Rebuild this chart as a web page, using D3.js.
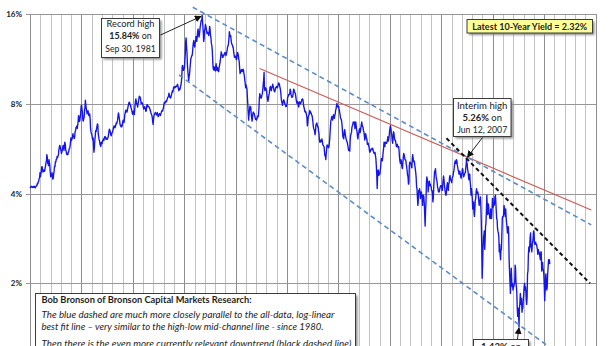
<!DOCTYPE html>
<html>
<head>
<meta charset="utf-8">
<script src="https://cdn.jsdelivr.net/npm/d3@7"></script>
<style>
  html, body { margin: 0; padding: 0; background: #fff; }
  svg { display: block; font-family: Lato, "Open Sans", sans-serif; }
</style>
</head>
<body>
<svg id="chart" width="616" height="346"></svg>
<script>
// 10-year Treasury yield (%), two readings per month (early, late), from Jan 1965
const firstYear = 1965;
const yieldPct = [
  /* 1965 */ 4.17,4.21, 4.20,4.23, 4.22,4.20, 4.19,4.22, 4.20,4.23, 4.22,4.19, 4.18,4.22, 4.23,4.27, 4.26,4.33, 4.32,4.38, 4.40,4.50, 4.52,4.70,
  /* 1966 */ 4.56,4.66, 4.75,4.92, 4.92,4.80, 4.72,4.78, 4.80,4.75, 4.76,4.88, 4.95,5.08, 5.15,5.40, 5.30,5.05, 5.04,4.96, 5.20,5.08, 4.95,4.70,
  /* 1967 */ 4.55,4.60, 4.58,4.70, 4.60,4.47, 4.50,4.66, 4.75,4.95, 4.92,5.12, 5.10,5.22, 5.22,5.33, 5.28,5.34, 5.40,5.58, 5.70,5.80, 5.76,5.65,
  /* 1968 */ 5.58,5.45, 5.52,5.60, 5.70,5.80, 5.68,5.58, 5.82,5.95, 5.85,5.60, 5.55,5.43, 5.40,5.45, 5.40,5.52, 5.52,5.65, 5.66,5.76, 5.90,6.15,
  /* 1969 */ 6.02,6.06, 6.12,6.26, 6.35,6.24, 6.18,6.12, 6.20,6.45, 6.50,6.66, 6.70,6.74, 6.62,6.78, 7.00,7.30, 7.20,6.98, 7.05,7.25, 7.50,7.85,
  /* 1970 */ 7.92,7.70, 7.45,7.05, 7.00,7.12, 7.20,7.60, 7.80,8.22, 7.95,7.70, 7.55,7.40, 7.50,7.58, 7.45,7.30, 7.30,7.40, 7.10,6.60, 6.45,6.35,
  /* 1971 */ 6.30,6.15, 6.05,6.15, 5.75,5.50, 5.70,6.00, 6.25,6.50, 6.45,6.60, 6.70,6.85, 6.80,6.35, 6.20,6.05, 6.00,5.85, 5.80,5.75, 5.95,5.92,
  /* 1972 */ 5.88,6.00, 6.05,6.10, 6.02,6.12, 6.20,6.22, 6.15,6.08, 6.10,6.14, 6.08,6.14, 6.18,6.30, 6.50,6.58, 6.52,6.44, 6.30,6.25, 6.32,6.40,
  /* 1973 */ 6.42,6.50, 6.60,6.68, 6.75,6.68, 6.65,6.70, 6.80,6.90, 6.86,6.95, 7.05,7.25, 7.45,7.35, 7.15,6.98, 6.80,6.75, 6.70,6.78, 6.70,6.80,
  /* 1974 */ 6.95,7.05, 6.98,6.92, 7.10,7.35, 7.45,7.60, 7.62,7.52, 7.50,7.60, 7.75,7.88, 8.00,8.10, 8.08,7.95, 7.95,7.80, 7.72,7.62, 7.50,7.38,
  /* 1975 */ 7.45,7.55, 7.40,7.35, 7.60,7.90, 8.20,8.30, 8.10,7.98, 7.90,7.80, 8.00,8.15, 8.35,8.48, 8.45,8.40, 8.25,8.00, 8.05,8.08, 8.02,7.95,
  /* 1976 */ 7.80,7.68, 7.75,7.82, 7.78,7.68, 7.55,7.58, 7.85,7.95, 7.90,7.82, 7.85,7.80, 7.80,7.72, 7.62,7.55, 7.45,7.38, 7.32,7.20, 6.95,6.82,
  /* 1977 */ 7.10,7.30, 7.36,7.42, 7.48,7.44, 7.38,7.34, 7.44,7.48, 7.32,7.24, 7.30,7.36, 7.42,7.38, 7.30,7.40, 7.48,7.56, 7.60,7.56, 7.65,7.75,
  /* 1978 */ 7.92,8.08, 8.02,8.06, 8.12,8.18, 8.12,8.20, 8.30,8.40, 8.42,8.50, 8.68,8.58, 8.42,8.36, 8.38,8.48, 8.58,8.72, 8.85,8.76, 8.92,9.10,
  /* 1979 */ 9.12,9.05, 9.05,9.15, 9.10,9.16, 9.15,9.22, 9.30,9.18, 9.00,8.85, 8.90,9.02, 8.95,9.12, 9.25,9.45, 9.90,10.70, 10.75,10.45, 10.35,10.45,
  /* 1980 */ 10.55,11.10, 11.80,12.90, 13.30,12.50, 11.90,10.90, 10.30,9.95, 9.55,9.85, 10.05,10.45, 10.90,11.30, 11.45,11.60, 11.60,11.90, 12.50,12.85, 13.05,12.60,
  /* 1981 */ 12.40,12.75, 12.95,13.45, 13.25,12.95, 13.40,13.95, 14.25,13.85, 13.40,13.55, 14.05,14.50, 14.80,15.20, 15.20,15.45, 15.40,14.70, 13.90,12.95, 13.20,14.05,
  /* 1982 */ 14.30,14.75, 14.60,14.30, 14.00,13.75, 13.90,13.80, 13.70,13.55, 14.05,14.55, 14.20,13.60, 13.30,12.75, 12.55,12.15, 11.30,10.60, 10.40,10.65, 10.60,10.40,
  /* 1983 */ 10.30,10.60, 10.90,10.55, 10.35,10.60, 10.45,10.30, 10.25,10.55, 10.75,10.95, 11.20,11.55, 11.95,11.75, 11.70,11.45, 11.45,11.62, 11.60,11.75, 11.80,11.90,
  /* 1984 */ 11.75,11.60, 11.75,11.95, 12.15,12.45, 12.50,12.75, 13.20,13.95, 13.70,13.45, 13.55,13.15, 12.80,12.65, 12.60,12.40, 12.35,11.95, 11.70,11.45, 11.55,11.45,
  /* 1985 */ 11.55,11.25, 11.30,11.70, 11.90,11.80, 11.60,11.25, 11.10,10.55, 10.10,10.20, 10.25,10.40, 10.40,10.25, 10.30,10.45, 10.35,10.10, 9.90,9.60, 9.35,9.05,
  /* 1986 */ 9.25,9.10, 8.95,8.45, 8.00,7.50, 7.05,7.35, 7.60,7.85, 7.75,7.80, 7.40,7.20, 7.00,7.20, 7.45,7.50, 7.45,7.40, 7.30,7.20, 7.10,7.15,
  /* 1987 */ 7.05,7.10, 7.20,7.28, 7.22,7.30, 7.70,8.30, 8.65,8.55, 8.45,8.35, 8.40,8.55, 8.65,8.90, 9.30,9.60, 10.20,9.00, 8.85,8.90, 9.05,8.95,
  /* 1988 */ 8.85,8.45, 8.30,8.15, 8.30,8.50, 8.65,8.85, 9.10,9.15, 9.00,8.85, 9.05,9.10, 9.30,9.20, 9.05,8.90, 8.80,8.78, 8.92,9.05, 9.10,9.15,
  /* 1989 */ 9.10,9.05, 9.15,9.30, 9.40,9.35, 9.25,9.10, 8.95,8.75, 8.35,8.15, 8.05,7.90, 8.05,8.20, 8.25,8.15, 8.05,7.95, 7.90,7.82, 7.85,7.90,
  /* 1990 */ 8.10,8.40, 8.45,8.55, 8.60,8.58, 8.70,8.95, 8.85,8.60, 8.50,8.40, 8.45,8.45, 8.70,8.95, 8.90,8.80, 8.70,8.68, 8.45,8.25, 8.10,8.02,
  /* 1991 */ 8.15,8.05, 7.85,7.80, 8.10,8.12, 8.02,8.00, 8.05,8.12, 8.25,8.30, 8.30,8.22, 7.95,7.80, 7.70,7.55, 7.50,7.55, 7.45,7.35, 7.20,6.75,
  /* 1992 */ 6.90,7.20, 7.30,7.35, 7.50,7.60, 7.45,7.50, 7.40,7.35, 7.30,7.15, 6.95,6.72, 6.60,6.55, 6.45,6.30, 6.45,6.80, 6.85,6.90, 6.80,6.70,
  /* 1993 */ 6.70,6.50, 6.35,6.05, 5.95,6.05, 5.95,5.98, 6.02,6.10, 6.00,5.85, 5.80,5.78, 5.75,5.55, 5.35,5.40, 5.20,5.42, 5.65,5.82, 5.75,5.80,
  /* 1994 */ 5.70,5.70, 5.85,6.05, 6.35,6.70, 7.05,7.10, 7.25,7.15, 7.05,7.20, 7.35,7.25, 7.15,7.30, 7.40,7.60, 7.70,7.85, 8.02,7.90, 7.80,7.85,
  /* 1995 */ 7.85,7.70, 7.55,7.40, 7.25,7.15, 7.10,7.02, 6.80,6.50, 6.20,6.15, 6.10,6.40, 6.55,6.45, 6.25,6.15, 6.05,6.00, 5.95,5.85, 5.75,5.60,
  /* 1996 */ 5.58,5.65, 5.55,6.05, 6.25,6.35, 6.40,6.65, 6.75,6.80, 6.95,6.90, 6.85,6.95, 6.60,6.75, 6.95,6.75, 6.55,6.45, 6.20,6.10, 6.30,6.40,
  /* 1997 */ 6.55,6.60, 6.40,6.50, 6.65,6.80, 6.95,6.80, 6.70,6.68, 6.50,6.45, 6.25,6.05, 6.30,6.35, 6.25,6.10, 6.10,5.85, 5.85,5.90, 5.78,5.75,
  /* 1998 */ 5.55,5.50, 5.55,5.60, 5.65,5.62, 5.62,5.68, 5.65,5.55, 5.50,5.45, 5.45,5.50, 5.35,5.25, 4.95,4.65, 4.16,4.60, 4.80,4.78, 4.60,4.68,
  /* 1999 */ 4.65,4.75, 4.90,5.15, 5.25,5.20, 5.15,5.30, 5.50,5.65, 5.95,5.90, 5.75,5.95, 5.95,5.90, 5.90,5.95, 6.05,6.20, 6.00,6.10, 6.25,6.45,
  /* 2000 */ 6.65,6.75, 6.60,6.40, 6.30,6.05, 5.90,6.10, 6.45,6.40, 6.20,6.05, 6.05,6.00, 5.85,5.75, 5.80,5.85, 5.75,5.70, 5.75,5.60, 5.30,5.15,
  /* 2001 */ 5.05,5.20, 5.15,5.00, 4.90,4.85, 5.10,5.30, 5.45,5.40, 5.30,5.20, 5.20,5.15, 5.00,4.90, 4.75,4.60, 4.55,4.30, 4.35,4.95, 5.10,5.10,
  /* 2002 */ 5.05,5.05, 4.90,4.88, 5.25,5.40, 5.25,5.12, 5.15,5.10, 4.95,4.85, 4.70,4.55, 4.20,4.15, 3.85,3.65, 3.80,4.10, 4.05,4.15, 4.05,3.85,
  /* 2003 */ 3.95,4.05, 3.95,3.85, 3.65,3.95, 3.95,3.90, 3.70,3.40, 3.11,3.50, 3.75,4.35, 4.55,4.45, 4.40,4.05, 4.25,4.35, 4.40,4.25, 4.30,4.25,
  /* 2004 */ 4.20,4.10, 4.10,4.00, 3.75,3.85, 4.20,4.50, 4.75,4.70, 4.85,4.65, 4.50,4.45, 4.35,4.20, 4.15,4.05, 4.10,4.05, 4.15,4.20, 4.25,4.25,
  /* 2005 */ 4.25,4.15, 4.10,4.30, 4.45,4.58, 4.45,4.25, 4.15,4.05, 3.95,3.95, 4.10,4.25, 4.35,4.20, 4.10,4.30, 4.35,4.55, 4.60,4.45, 4.45,4.40,
  /* 2006 */ 4.35,4.50, 4.55,4.58, 4.70,4.75, 4.90,5.05, 5.15,5.05, 5.05,5.20, 5.15,5.00, 4.90,4.80, 4.75,4.65, 4.75,4.75, 4.65,4.55, 4.50,4.65,
  /* 2007 */ 4.70,4.85, 4.80,4.60, 4.55,4.60, 4.65,4.70, 4.70,4.90, 5.05,5.10, 5.05,4.85, 4.75,4.60, 4.45,4.60, 4.65,4.40, 4.25,3.95, 4.15,4.05,
  /* 2008 */ 3.85,3.55, 3.70,3.75, 3.45,3.35, 3.55,3.80, 3.85,4.05, 4.15,4.00, 4.00,4.05, 3.95,3.80, 3.65,3.80, 3.75,3.90, 3.60,3.20, 2.65,2.08,
  /* 2009 */ 2.30,2.65, 2.85,2.90, 3.00,2.60, 2.80,3.10, 3.20,3.50, 3.95,3.60, 3.40,3.70, 3.65,3.45, 3.40,3.30, 3.30,3.55, 3.40,3.30, 3.50,3.85,
  /* 2010 */ 3.85,3.60, 3.70,3.65, 3.70,3.90, 3.95,3.75, 3.50,3.30, 3.25,3.05, 2.98,2.95, 2.85,2.55, 2.70,2.50, 2.40,2.60, 2.60,2.90, 3.30,3.35,
  /* 2011 */ 3.35,3.40, 3.65,3.55, 3.45,3.35, 3.55,3.35, 3.20,3.10, 2.95,3.00, 3.10,2.95, 2.40,2.20, 2.00,1.85, 2.05,2.25, 2.05,1.95, 2.00,1.90,
  /* 2012 */ 1.95,1.95, 2.00,2.00, 2.30,2.25, 2.00,1.95, 1.85,1.65, 1.55,1.65, 1.55,1.47, 1.65,1.70, 1.85,1.75, 1.70,1.78, 1.60,1.65, 1.65,1.75,
  /* 2013 */ 1.85,1.95, 2.00,1.90, 1.95,1.90, 1.75,1.70, 1.80,2.15, 2.20,2.50, 2.65,2.55, 2.65,2.85, 2.95,2.65, 2.65,2.55, 2.70,2.75, 2.85,3.00,
  /* 2014 */ 2.95,2.75, 2.70,2.75, 2.75,2.70, 2.70,2.65, 2.60,2.50, 2.60,2.55, 2.55,2.50, 2.45,2.40, 2.55,2.55, 2.20,2.30, 2.35,2.25, 2.20,2.15,
  /* 2015 */ 1.95,1.75, 1.90,2.10, 2.15,1.95, 1.90,1.95, 2.15,2.25, 2.40,2.35, 2.40,2.32
];

// Dated readings called out in the annotations
const keyPoints = [
  { date: "1981-09-30", value: 15.84 },
  { date: "2007-06-12", value: 5.26 },
  { date: "2012-07-24", value: 1.43 }
];

const yTicks = [16, 8, 4, 2, 1];
const latestYield = 2.32;

// Trend lines, as [date, yield %] end points
const upperChannel = [["1980-10-30", 16.86], ["2019-08-04", 3.14]];
const lowerChannel = [["1979-06-28", 10.0], ["2016-02-14", 1.18]];
const redTrend = [["1987-04-30", 10.51], ["2019-08-04", 3.52]];
const blackTrend = [["2005-07-05", 6.13], ["2019-06-20", 2.0]];

const parseDate = d3.timeParse("%Y-%m-%d");

const series = yieldPct.map((v, i) => {
  const m = Math.floor(i / 2);
  return { date: new Date(firstYear + Math.floor(m / 12), m % 12, i % 2 === 0 ? 8 : 22), value: v };
});
keyPoints.forEach(k => series.push({ date: parseDate(k.date), value: k.value }));
series.sort((a, b) => a.date - b.date);

const svg = d3.select("#chart");
const plotLeft = 30, plotRight = 595.5, plotTop = 14, plotBottom = 373.1;

const x = d3.scaleTime()
  .domain([new Date(1965, 0, 1), new Date(2020, 0, 1)])
  .range([plotLeft, plotRight]);
const y = d3.scaleLog().domain([1, 16]).range([plotBottom, plotTop]);

const defs = svg.append("defs");
defs.append("filter").attr("id", "soft")
  .attr("x", "-10%").attr("y", "-10%").attr("width", "130%").attr("height", "130%")
  .append("feGaussianBlur").attr("stdDeviation", 0.9);
defs.append("marker").attr("id", "head")
  .attr("viewBox", "0 0 10 10").attr("refX", 9).attr("refY", 5)
  .attr("markerWidth", 7).attr("markerHeight", 7).attr("markerUnits", "userSpaceOnUse")
  .attr("orient", "auto")
  .append("path").attr("d", "M0,0 L10,5 L0,10 Z").attr("fill", "#111");

// Yearly vertical gridlines, darker every five years
const xGrid = svg.append("g")
  .attr("transform", `translate(0,${plotTop})`)
  .call(d3.axisBottom(x).ticks(d3.timeYear.every(1)).tickSize(plotBottom - plotTop).tickFormat(""));
xGrid.select(".domain").remove();
xGrid.selectAll(".tick line")
  .attr("stroke", d => d.getFullYear() % 5 === 0 ? "#8e8e8e" : "#c2c2c2")
  .attr("stroke-width", 1)
  .attr("shape-rendering", "crispEdges");

// Log-scale horizontal gridlines with percent labels
const yAxis = svg.append("g")
  .attr("transform", "translate(26,0)")
  .call(d3.axisLeft(y).tickValues(yTicks).tickSize(-(plotRight - 26)).tickPadding(4)
    .tickFormat(d => d + "%"));
yAxis.select(".domain").remove();
yAxis.selectAll(".tick line").attr("stroke", "#979797").attr("shape-rendering", "crispEdges");
yAxis.selectAll(".tick text")
  .attr("font-size", 8).attr("font-weight", "bold").attr("fill", "#222")
  .attr("font-family", "Lato, sans-serif");

// Yield line
const line = d3.line().x(d => x(d.date)).y(d => y(d.value));
svg.append("path").datum(series)
  .attr("d", line)
  .attr("fill", "none")
  .attr("stroke", "#1414ee")
  .attr("stroke-width", 1.35)
  .attr("stroke-linejoin", "round");

// Trend lines
const trend = d3.line().x(d => x(parseDate(d[0]))).y(d => y(d[1]));
function drawTrend(pts, color, width, dash) {
  svg.append("path").datum(pts).attr("d", trend)
    .attr("fill", "none").attr("stroke", color).attr("stroke-width", width)
    .attr("stroke-dasharray", dash);
}
drawTrend(redTrend, "#cc5a55", 1.1, null);
drawTrend(upperChannel, "#5b8dc6", 1.6, "5,3.5");
drawTrend(lowerChannel, "#5b8dc6", 1.6, "5,3.5");
drawTrend(blackTrend, "#111", 2, "4,3");

// Callout boxes
function box(x0, y0, w, h, fill) {
  svg.append("rect").attr("x", x0 + 2).attr("y", y0 + 2).attr("width", w).attr("height", h)
    .attr("fill", "#8a8a8a").attr("filter", "url(#soft)");
  svg.append("rect").attr("x", x0).attr("y", y0).attr("width", w).attr("height", h)
    .attr("fill", fill).attr("stroke", "#3c3c3c").attr("stroke-width", 1);
}
function fitWidth(t, w) {
  const len = t.node().getComputedTextLength();
  const fs = parseFloat(t.attr("font-size"));
  t.attr("font-size", (fs * w / len).toFixed(2));
  return t;
}
function arrow(x0, y0, x1, y1) {
  svg.append("line").attr("x1", x0).attr("y1", y0).attr("x2", x1).attr("y2", y1)
    .attr("stroke", "#222").attr("stroke-width", 1).attr("marker-end", "url(#head)");
}
function callout(cx, baselines, lines, widths) {
  lines.forEach((ln, i) => {
    const t = svg.append("text").attr("x", cx).attr("y", baselines[i])
      .attr("text-anchor", "middle").attr("font-size", 9).attr("fill", "#222");
    ln.forEach(part => t.append("tspan").text(part.t)
      .attr("font-weight", part.b ? "bold" : "normal"));
    fitWidth(t, widths[i]);
  });
}

const recordPt = series.find(d => d.value === keyPoints[0].value);
const interimPt = series.find(d => d.value === keyPoints[1].value);
const lowPt = series.find(d => d.value === keyPoints[2].value);

box(101.5, 18.5, 58, 39, "#fff");
callout(130.5, [27.3, 39.4, 51.5], [
  [{ t: "Record high" }],
  [{ t: "15.84%", b: true }, { t: " on" }],
  [{ t: "Sep 30, 1981" }]
], [48, 42.5, 50.5]);
arrow(160.5, 35, x(recordPt.date) - 1, y(recordPt.value) + 1);

box(453.5, 98.5, 57.5, 38, "#fff");
callout(482.2, [108.9, 120.7, 132.5], [
  [{ t: "Interim high" }],
  [{ t: "5.26%", b: true }, { t: " on" }],
  [{ t: "Jun 12, 2007" }]
], [50.5, 39.5, 50]);
arrow(482.5, 137.5, x(interimPt.date) + 1, y(interimPt.value) - 1);

box(473.5, 339.5, 55, 34, "#fff");
callout(501, [349.5, 361.5], [
  [{ t: "1.43%", b: true }, { t: " on" }],
  [{ t: "Jul 24, 2012" }]
], [40, 50]);
arrow(517.5, 339, x(lowPt.date), y(lowPt.value) + 1);

box(467, 19.5, 125.5, 13.5, "#ffff99");
fitWidth(svg.append("text").attr("x", 529.7).attr("y", 29.6).attr("text-anchor", "middle")
  .attr("font-size", 9).attr("font-weight", "bold").attr("fill", "#222")
  .text(`Latest 10-Year Yield = ${latestYield.toFixed(2)}%`), 115);

// Commentary box
box(35.5, 293.5, 320, 70, "#fff");
const note = [
  { t: "Bob Bronson of Bronson Capital Markets Research:", b: true, y: 303.2, w: 210 },
  { t: "The blue dashed are much more closely parallel to the all-data, log-linear", y: 318.2, w: 293 },
  { t: "best fit line \u2013 very similar to the high-low mid-channel line - since 1980.", y: 330.4, w: 282 },
  { t: "Then there is the even more currently relevant downtrend (black dashed line)", y: 347, w: 310 }
];
note.forEach(n => {
  fitWidth(svg.append("text").attr("x", 41.5).attr("y", n.y)
    .attr("font-size", 9.3).attr("fill", "#1e1e1e")
    .attr("font-weight", n.b ? "bold" : "normal")
    .attr("font-style", n.b ? "normal" : "italic")
    .text(n.t), n.w);
});
</script>
</body>
</html>
